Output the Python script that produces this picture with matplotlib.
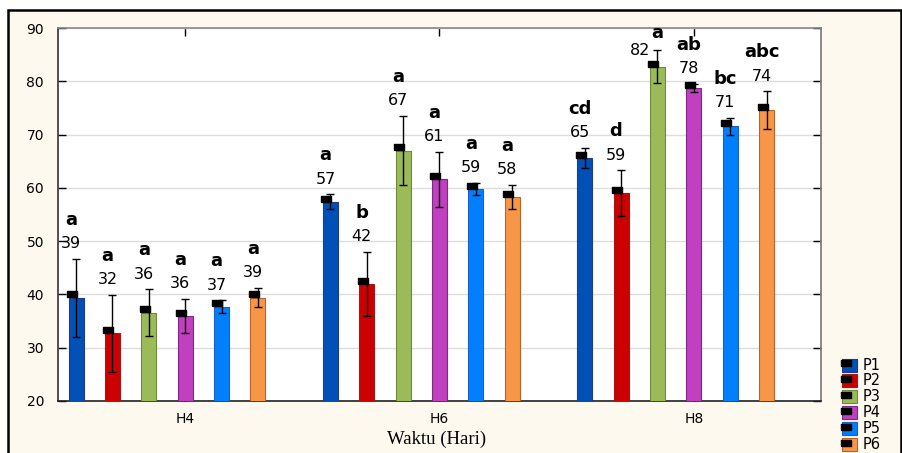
import matplotlib.pyplot as plt
import numpy as np
from matplotlib.lines import Line2D
from matplotlib.patches import Rectangle

# Pertumbuhan per perlakuan pada tiap hari pengamatan
days = ["H4", "H6", "H8"]
treatments = ["P1", "P2", "P3", "P4", "P5", "P6"]

p1_mean = [39.4, 57.4, 65.6]
p2_mean = [32.7, 42.0, 59.0]
p3_mean = [36.6, 67.0, 82.7]
p4_mean = [36.0, 61.6, 78.7]
p5_mean = [37.7, 59.8, 71.6]
p6_mean = [39.4, 58.3, 74.6]

p1_err = [7.3, 1.4, 1.9]
p2_err = [7.2, 6.0, 4.3]
p3_err = [4.4, 6.5, 3.1]
p4_err = [3.2, 5.2, 0.8]
p5_err = [1.2, 1.2, 1.6]
p6_err = [1.85, 2.3, 3.5]

# huruf notasi uji lanjut (per hari, urut P1..P6)
h4_letters = ["a", "a", "a", "a", "a", "a"]
h6_letters = ["a", "b", "a", "a", "a", "a"]
h8_letters = ["cd", "d", "a", "ab", "bc", "abc"]

means = [p1_mean, p2_mean, p3_mean, p4_mean, p5_mean, p6_mean]
errs = [p1_err, p2_err, p3_err, p4_err, p5_err, p6_err]
letters = [h4_letters, h6_letters, h8_letters]

face_colors = ["#0050B8", "#CC0000", "#9BBB59", "#C040C0", "#0080FF", "#F79646"]
edge_colors = ["#1F3C88", "#A01818", "#71893F", "#7E2A84", "#1C5FC0", "#B8652A"]

plt.rcParams["font.family"] = "DejaVu Sans"

fig = plt.figure(figsize=(9.03, 4.53), dpi=100, facecolor="white")
W, H = 903, 453

# panel krem berbingkai hitam
fig.patches.append(Rectangle((8 / W, -0.05), (901 - 8) / W, (H - 10) / H + 0.05,
                             transform=fig.transFigure, facecolor="#FDF9EE",
                             edgecolor="black", linewidth=1.8, zorder=-5))

ax = fig.add_axes([58 / W, 52 / H, (821 - 58) / W, (401 - 28) / H])
ax.set_facecolor("white")
ax.set_zorder(1)

x = np.arange(len(days))
step = 0.143
width = 0.059
first = -0.429

rect_marker = [(-1.5, -1), (1.5, -1), (1.5, 1), (-1.5, 1), (-1.5, -1)]

for i, (m, e) in enumerate(zip(means, errs)):
    pos = x + first + i * step
    ax.bar(pos, m, width=width, color=face_colors[i], edgecolor=edge_colors[i],
           linewidth=0.8, zorder=3)
    ax.errorbar(pos, m, yerr=e, fmt="none", ecolor="black", elinewidth=1,
                capsize=3, capthick=1, zorder=5)
    ax.plot(pos - 0.016, np.array(m) + 0.6, linestyle="none", marker=rect_marker,
            markersize=6.5, color="black", zorder=6)
    for j in range(len(days)):
        top = m[j] + e[j]
        num = f"{int(m[j])}"
        let = letters[j][i]
        if top + 7.3 > 90:
            ax.annotate(num, (pos[j], top), xytext=(-17, 0), textcoords="offset pixels",
                        ha="center", va="center", fontsize=11.5, zorder=7)
            ax.annotate(let, (pos[j], top), xytext=(0, 17), textcoords="offset pixels",
                        ha="center", va="center", fontsize=13, fontweight="bold", zorder=7)
        else:
            ax.annotate(num, (pos[j], top), xytext=(-5, 15), textcoords="offset pixels",
                        ha="center", va="center", fontsize=11.5, zorder=7)
            ax.annotate(let, (pos[j], top), xytext=(-5, 39), textcoords="offset pixels",
                        ha="center", va="center", fontsize=13, fontweight="bold", zorder=7)

ax.set_xlim(-0.5, 2.5)
ax.set_ylim(20, 90)
ax.set_yticks(range(20, 91, 10))
ax.set_xticks(x, days)
ax.yaxis.grid(True, color="#DDDDDD", linewidth=1, zorder=0)
ax.set_axisbelow(True)
ax.tick_params(axis="both", direction="in", length=6, width=1, labelsize=10,
               top=True, right=True)
ax.tick_params(axis="y", pad=10)
ax.tick_params(axis="x", pad=8)
ax.spines["left"].set_color("#333333")
ax.spines["bottom"].set_color("#222222")
ax.spines["top"].set_color("#888888")
ax.spines["right"].set_color("#777777")
for s in ax.spines.values():
    s.set_linewidth(1.2)

fig.text(437 / W, 1 - 439 / H, "Waktu (Hari)", ha="center", va="center",
         family="Liberation Serif", fontsize=13.5)

# legenda di pojok kanan bawah
for i, name in enumerate(treatments):
    yc = 365 + i * 15.9
    fig.patches.append(Rectangle((842 / W, 1 - (yc + 6.5) / H), 15 / W, 13 / H,
                                 transform=fig.transFigure, facecolor=face_colors[i],
                                 edgecolor=edge_colors[i], linewidth=0.8, zorder=3))
    fig.lines.append(Line2D([846 / W], [1 - (yc - 2) / H], transform=fig.transFigure,
                            marker=rect_marker, markersize=6.5, color="black",
                            linestyle="none", zorder=4))
    fig.text(863 / W, 1 - yc / H, name, ha="left", va="center", fontsize=10.5)

fig.savefig("out.png", dpi=100, facecolor=fig.get_facecolor())
